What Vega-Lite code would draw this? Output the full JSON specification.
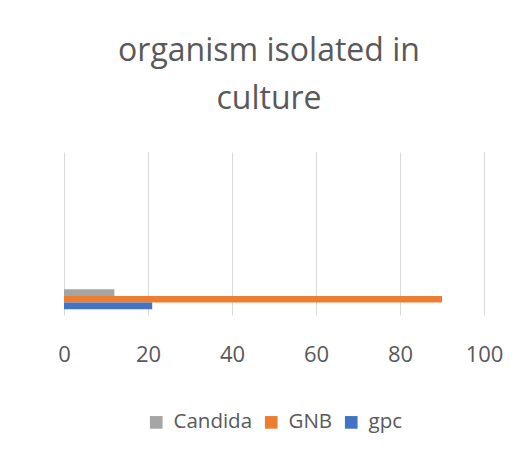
{
  "$schema": "https://vega.github.io/schema/vega-lite/v6.json",
  "autosize": "none",
  "width": 420,
  "height": 163,
  "padding": {"left": 64, "top": 152, "right": 38, "bottom": 139},
  "background": "white",
  "title": {
    "text": ["organism isolated in", "culture"],
    "font": "Open Sans",
    "fontSize": 32,
    "fontWeight": "normal",
    "color": "#595959",
    "lineHeight": 48,
    "offset": 36,
    "anchor": "middle",
    "dx": -5
  },
  "data": {
    "values": [
      {"cat": "1", "series": "Candida", "value": 12},
      {"cat": "1", "series": "GNB", "value": 90},
      {"cat": "1", "series": "gpc", "value": 21}
    ]
  },
  "mark": {"type": "bar"},
  "encoding": {
    "y": {
      "field": "cat",
      "type": "nominal",
      "axis": null,
      "scale": {"paddingInner": 0.72, "paddingOuter": 1, "align": 0.96}
    },
    "yOffset": {
      "field": "series",
      "type": "nominal",
      "sort": ["Candida", "GNB", "gpc"],
      "scale": {"paddingInner": 0, "paddingOuter": 0}
    },
    "x": {
      "field": "value",
      "type": "quantitative",
      "scale": {"domain": [0, 100]},
      "axis": {
        "title": null,
        "values": [0, 20, 40, 60, 80, 100],
        "domain": false,
        "ticks": false,
        "grid": true,
        "gridColor": "#d9d9d9",
        "gridWidth": 1,
        "labelFlush": false,
        "labelFont": "Open Sans",
        "labelFontSize": 22,
        "labelColor": "#595959",
        "labelPadding": 29
      }
    },
    "color": {
      "field": "series",
      "type": "nominal",
      "scale": {
        "domain": ["Candida", "GNB", "gpc"],
        "range": ["#a5a5a5", "#ed7d31", "#4472c4"]
      },
      "legend": {
        "title": null,
        "orient": "none",
        "legendX": 82,
        "legendY": 260,
        "direction": "horizontal",
        "symbolType": "square",
        "symbolSize": 160,
        "symbolStrokeWidth": 0,
        "labelFont": "Open Sans",
        "labelFontSize": 20.5,
        "labelColor": "#595959",
        "labelOffset": 7,
        "columnPadding": 8
      }
    }
  },
  "config": {
    "view": {"stroke": null}
  }
}
